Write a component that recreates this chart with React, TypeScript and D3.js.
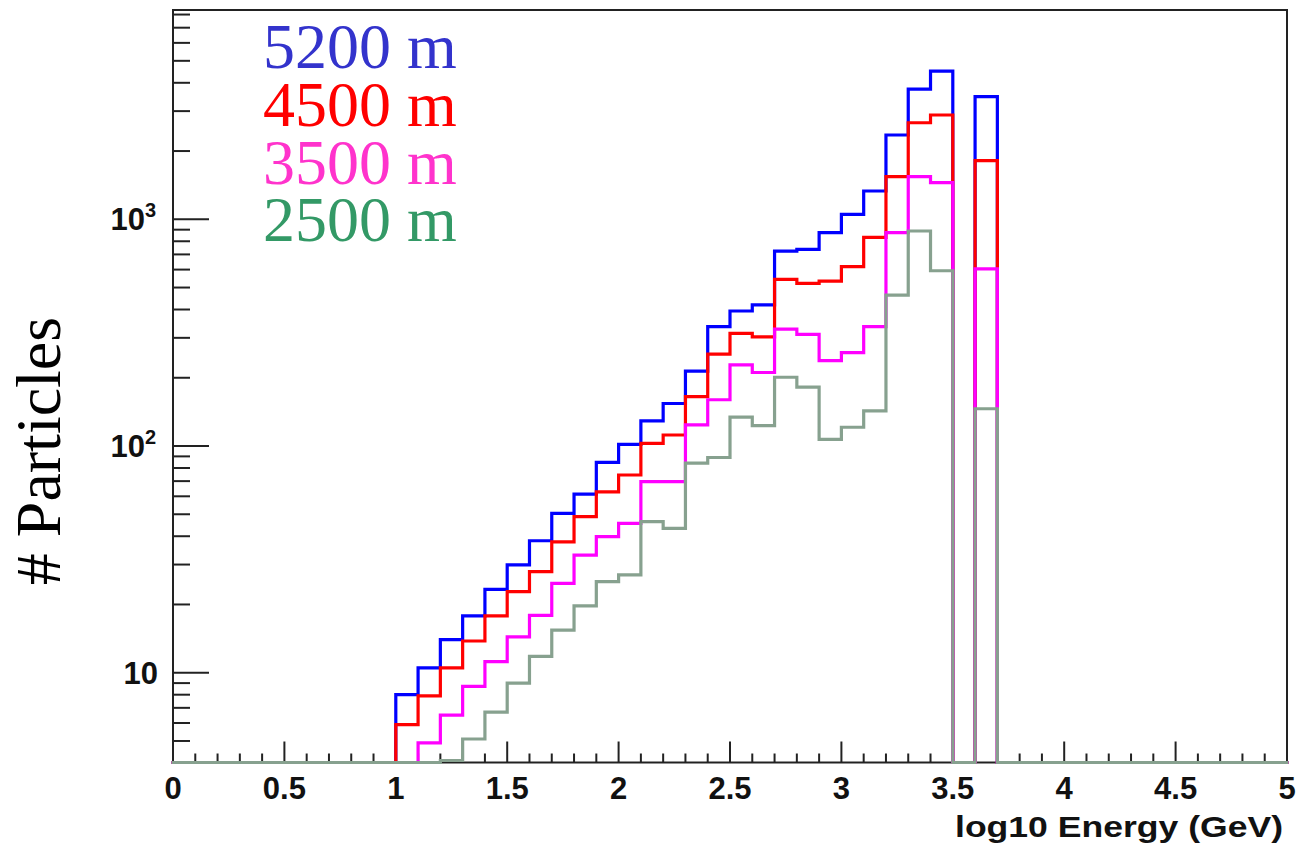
import React from "react";
import * as d3 from "d3";

// histogram bins (lower edges, log10 GeV), width 0.1
const binLow = [1.0, 1.1, 1.2, 1.3, 1.4, 1.5, 1.6, 1.7, 1.8, 1.9, 2.0, 2.1, 2.2, 2.3, 2.4, 2.5, 2.6, 2.7, 2.8, 2.9, 3.0, 3.1, 3.2, 3.3, 3.4, 3.5, 3.6];
const binWidth = 0.1;

const h5200 = [8, 10.5, 14, 17.8, 23.3, 29.9, 38.2, 50.5, 61.4, 84.7, 101.7, 129, 154, 214, 336, 394, 419, 724, 737, 873, 1052, 1333, 2354, 3748, 4505, 0, 3473];
const h4500 = [5.9, 7.9, 10.5, 13.8, 17.8, 22.8, 27.9, 37.8, 48.8, 62.8, 74.5, 102.8, 111.8, 165, 254, 314, 303, 543, 522, 534, 618, 833, 1542, 2666, 2884, 0, 1816];
const h3500 = [0, 4.9, 6.5, 8.7, 11.2, 14.4, 17.9, 24.8, 33, 39.8, 45.6, 69.6, 69.6, 124, 160, 228, 211, 328, 311, 238, 258, 336, 873, 1542, 1452, 0, 604];
const h2500 = [0, 0, 4.1, 5.1, 6.7, 9.0, 11.8, 15.4, 19.7, 25.2, 27.0, 46.4, 43.3, 84, 89, 134, 123, 201, 182, 107, 121, 143, 463, 888, 593, 0, 146];

const labels = ["5200 m", "4500 m", "3500 m", "2500 m"];
const lineColors = ["#0000ff", "#ff0000", "#ff00ff", "#87a18f"];
const textColors = ["#3333cc", "#ff0000", "#ff33cc", "#339966"];

const xDomain: [number, number] = [0, 5];
const yDomain: [number, number] = [4.018, 8378];

const W = 1298;
const H = 850;
const left = 173;
const right = 1287;
const top = 10;
const bottom = 762.5;

export default function App() {
  const x = d3.scaleLinear().domain(xDomain).range([left, right]);
  const y = d3.scaleLog().domain(yDomain).range([bottom, top]);
  const yv = (v: number) => (v > yDomain[0] ? y(v) : bottom);

  const line = d3
    .line<[number, number]>()
    .x((d) => x(d[0]))
    .y((d) => yv(d[1]));

  // empty bins sit on the bottom of the frame, as ROOT draws them
  const stepPoints = (vals: number[]) => {
    const pts: [number, number][] = [[xDomain[0], 0], [binLow[0], 0]];
    binLow.forEach((lo, i) => {
      pts.push([lo, vals[i]]);
      pts.push([lo + binWidth, vals[i]]);
    });
    pts.push([binLow[binLow.length - 1] + binWidth, 0]);
    pts.push([xDomain[1], 0]);
    return pts;
  };

  const series = [h5200, h4500, h3500, h2500];

  const xTicks = x.ticks(50);
  const yTicks = y.ticks();
  const isDecade = (v: number) => Math.abs(Math.log10(v) - Math.round(Math.log10(v))) < 1e-9;
  const xMajor = (v: number) => Math.abs(v * 2 - Math.round(v * 2)) < 1e-9;
  const xFmt = d3.format("~g");

  const tickFont = "'Liberation Sans', Arial, sans-serif";
  const serif = "'Liberation Serif', 'Times New Roman', serif";

  return (
    <svg width={W} height={H} style={{ position: "absolute", left: 0, top: 0, background: "#fff" }}>
      <rect x={0} y={0} width={W} height={H} fill="#fff" />

      {/* frame */}
      <rect x={left} y={top} width={right - left} height={bottom - top} fill="none" stroke="#222" strokeWidth={2} />

      {/* x ticks */}
      {xTicks.map((t, i) => (
        <line key={"xt" + i} x1={x(t)} x2={x(t)} y1={bottom} y2={bottom - (xMajor(t) ? 21 : 9)} stroke="#222" strokeWidth={2} />
      ))}
      {xTicks.filter(xMajor).map((t, i) => (
        <text key={"xl" + i} x={x(t)} y={799} textAnchor="middle" fontFamily={tickFont} fontWeight="bold" fontSize={31} fill="#111">
          {xFmt(t)}
        </text>
      ))}

      {/* y ticks */}
      {yTicks.map((t, i) => (
        <line key={"yt" + i} x1={left} x2={left + (isDecade(t) ? 36 : 17)} y1={y(t)} y2={y(t)} stroke="#222" strokeWidth={2} />
      ))}
      {yTicks.filter(isDecade).map((t, i) => {
        const e = Math.round(Math.log10(t));
        return e === 1 ? (
          <text key={"yl" + i} x={158} y={y(t) + 11} textAnchor="end" fontFamily={tickFont} fontWeight="bold" fontSize={31} fill="#111">
            10
          </text>
        ) : (
          <text key={"yl" + i} x={156} y={y(t) + 11} textAnchor="end" fontFamily={tickFont} fontWeight="bold" fontSize={31} fill="#111">
            10
            <tspan fontSize={20} dy={-13}>{e}</tspan>
          </text>
        );
      })}

      {/* histograms */}
      {series.map((vals, i) => (
        <path key={"h" + i} d={line(stepPoints(vals)) || ""} fill="none" stroke={lineColors[i]} strokeWidth={3.2} strokeLinejoin="miter" strokeLinecap="square" />
      ))}

      {/* legend */}
      {labels.map((lab, i) => (
        <text key={"lg" + i} x={263} y={68 + i * 57.8} fontFamily={serif} fontSize={64} fill={textColors[i]}>
          {lab}
        </text>
      ))}

      {/* axis titles */}
      <text x={1283} y={837} textAnchor="end" fontFamily={tickFont} fontWeight="bold" fontSize={30} fill="#111" textLength={328} lengthAdjust="spacingAndGlyphs">
        log10 Energy (GeV)
      </text>
      <text transform="translate(60,451) rotate(-90)" textAnchor="middle" fontFamily={serif} fontSize={64} fill="#000">
        # Particles
      </text>
    </svg>
  );
}
